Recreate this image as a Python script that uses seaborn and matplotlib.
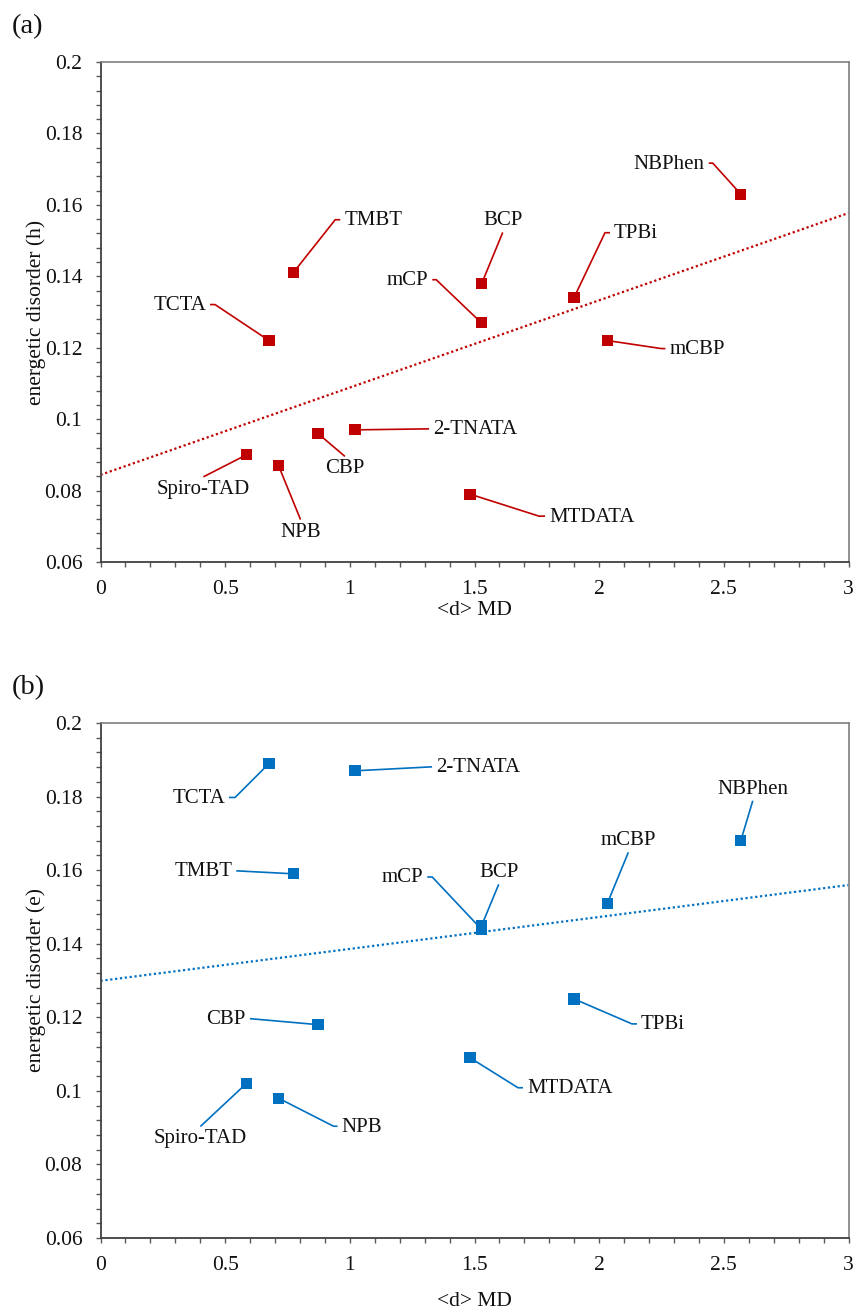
import numpy as np
import pandas as pd
import matplotlib
matplotlib.use("Agg")
import matplotlib.pyplot as plt
import seaborn as sns
from matplotlib.ticker import FixedLocator, MultipleLocator, FuncFormatter

# ---------------- data ----------------
materials = ['TCTA', 'TMBT', '2-TNATA', 'NBPhen', 'mCBP', 'BCP', 'mCP', 'TPBi',
             'CBP', 'MTDATA', 'Spiro-TAD', 'NPB']
d_md = [0.676, 0.773, 1.021, 2.568, 2.033, 1.529, 1.527, 1.899, 0.872, 1.482, 0.585, 0.714]
sigma_h = [0.122, 0.141, 0.097, 0.163, 0.122, 0.138, 0.127, 0.134, 0.096, 0.079, 0.090, 0.087]
sigma_e = [0.189, 0.159, 0.187, 0.168, 0.151, 0.145, 0.144, 0.125, 0.118, 0.109, 0.102, 0.098]
x_ticks = [0, 0.5, 1, 1.5, 2, 2.5, 3]
y_ticks = [0.06, 0.08, 0.1, 0.12, 0.14, 0.16, 0.18, 0.2]
panel_tags = ['(a)', '(b)']
y_titles = ['energetic disorder (h)', 'energetic disorder (e)']
x_title = '<d> MD'

# ---------------- label layout (pixels: elbow dx, elbow dy (up), stub, placement) ----------------
LAYOUT_H = {
    'TCTA': (-54, 36, -5, 'left'),
    'TMBT': (42, 53, 5, 'right'),
    '2-TNATA': (74, 1, 0, 'right'),
    'NBPhen': (-28, 31, -4, 'left'),
    'mCBP': (54, -8, 4, 'right'),
    'BCP': (21, 51, 0, 'above'),
    'mCP': (-45, 43, -4, 'left'),
    'TPBi': (31, 65, 5, 'right'),
    'CBP': (27, -23, 0, 'below'),
    'MTDATA': (69, -22, 6, 'right'),
    'Spiro-TAD': (-43, -22, 0, 'below'),
    'NPB': (22, -54, 0, 'below'),
}
LAYOUT_E = {
    'TCTA': (-34, -34, -6, 'left'),
    'TMBT': (-57, 3, 0, 'left'),
    '2-TNATA': (77, 4, 0, 'right'),
    'NBPhen': (12, 40, 0, 'above'),
    'mCBP': (21, 51, 0, 'above'),
    'BCP': (17, 41, 0, 'above'),
    'mCP': (-49, 52, -5, 'left'),
    'TPBi': (58, -25, 5, 'right'),
    'CBP': (-68, 6, 0, 'left'),
    'MTDATA': (48, -30, 5, 'right'),
    'Spiro-TAD': (-46, -43, 0, 'below'),
    'NPB': (55, -28, 4, 'right'),
}

RED = '#C00000'
BLUE = '#0070C0'
W, H = 858, 1313

sns.set_theme(style='white')
plt.rcParams['font.family'] = ['Liberation Serif', 'DejaVu Serif']
plt.rcParams['axes.unicode_minus'] = False

fig = plt.figure(figsize=(W / 100, H / 100), dpi=100)
fig.patch.set_facecolor('white')


def px_axes(left, top, right, bottom):
    return fig.add_axes([left / W, 1 - bottom / H, (right - left) / W, (bottom - top) / H])


def draw_panel(ax, yvals, color, layout, ylabel, xlab_y):
    df = pd.DataFrame({'material': materials, 'd': d_md, 'sigma': yvals})
    ax.set_xlim(0, 3)
    ax.set_ylim(0.06, 0.2)
    sns.regplot(data=df, x='d', y='sigma', scatter=False, ci=None, truncate=False,
                ax=ax, color=color,
                line_kws=dict(lw=1.6, linestyle=(0, (1, 1.2)), zorder=2))
    sns.scatterplot(data=df, x='d', y='sigma', marker='s', s=66, color=color,
                    edgecolor='none', linewidth=0, ax=ax, zorder=5, legend=False)
    ax.set_xlim(0, 3)
    ax.set_ylim(0.06, 0.2)

    inv = ax.transData.inverted()
    for m, xv, yv in zip(df['material'], df['d'], df['sigma']):
        dx, dy, stub, place = layout[m]
        px, py = ax.transData.transform((xv, yv))
        pts = np.array([(px, py), (px + dx, py + dy), (px + dx + stub, py + dy)])
        dpts = inv.transform(pts)
        ax.plot(dpts[:, 0], dpts[:, 1], color=color, lw=1.2, zorder=3,
                solid_capstyle='butt', solid_joinstyle='miter')
        ex, ey = px + dx + stub, py + dy
        if place == 'right':
            tx, ty, ha, va = ex + 4, ey - 1, 'left', 'center'
        elif place == 'left':
            tx, ty, ha, va = ex - 4, ey - 1, 'right', 'center'
        elif place == 'above':
            tx, ty, ha, va = ex, ey + 2, 'center', 'bottom'
        else:
            tx, ty, ha, va = ex, ey - 3, 'center', 'top'
        t = inv.transform((tx, ty))
        ax.text(t[0], t[1], m, ha=ha, va=va, fontsize=15, color='#111111', zorder=6)

    ax.xaxis.set_major_locator(FixedLocator(x_ticks))
    ax.xaxis.set_minor_locator(MultipleLocator(0.1))
    ax.yaxis.set_major_locator(FixedLocator(y_ticks))
    ax.yaxis.set_minor_locator(MultipleLocator(0.004))
    fmt = FuncFormatter(lambda v, p: f'{v:g}')
    ax.xaxis.set_major_formatter(fmt)
    ax.yaxis.set_major_formatter(fmt)
    ax.tick_params(which='both', direction='out', length=3.6, width=1.0,
                   color='#595959', bottom=True, left=True, top=False, right=False)
    ax.tick_params(axis='y', which='major', labelsize=15.5, pad=9.5, labelcolor='#111111')
    ax.tick_params(axis='x', which='major', labelsize=15.5, pad=9.0, labelcolor='#111111')
    for side in ['left', 'bottom']:
        ax.spines[side].set_color('#404040')
        ax.spines[side].set_linewidth(1.3)
    for side in ['top', 'right']:
        ax.spines[side].set_color('#7f7f7f')
        ax.spines[side].set_linewidth(1.2)
    ax.grid(False)
    ax.set_facecolor('white')
    ax.set_ylabel(ylabel, fontsize=15.5, color='#111111')
    ax.set_xlabel(x_title, fontsize=15.5, color='#111111')
    ax.yaxis.set_label_coords(-0.073, 0.5)
    ax.xaxis.set_label_coords(0.5, xlab_y)


ax_a = px_axes(100.5, 62, 848.5, 562)
draw_panel(ax_a, sigma_h, RED, LAYOUT_H, y_titles[0], -0.078)
ax_b = px_axes(100.5, 723, 848.5, 1238)
draw_panel(ax_b, sigma_e, BLUE, LAYOUT_E, y_titles[1], -0.105)

fig.text(12 / W, 1 - 27 / H, panel_tags[0], fontsize=20.5, ha='left', va='center', color='#111111')
fig.text(12 / W, 1 - 688 / H, panel_tags[1], fontsize=20.5, ha='left', va='center', color='#111111')

fig.savefig('out.png', dpi=100, facecolor='white')
